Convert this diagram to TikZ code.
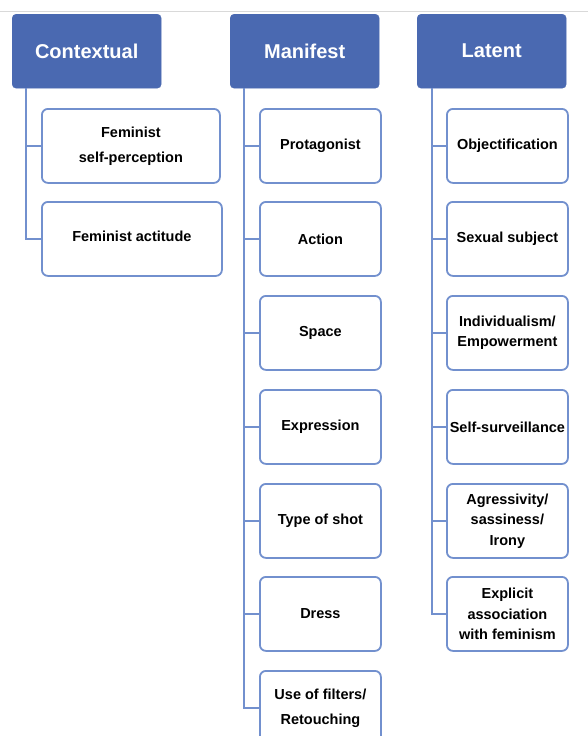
\documentclass[tikz,border=0pt]{standalone}
\usepackage{fontspec}
\setmainfont{Liberation Sans}
\definecolor{hdrblue}{HTML}{4A69B1}
\definecolor{edgeblue}{HTML}{7290CE}
\definecolor{topgray}{HTML}{D9D9D9}
\begin{document}
\begin{tikzpicture}[x=1pt,y=-1pt,
  hdr/.style={draw=hdrblue, fill=hdrblue, rounded corners=4pt, minimum width=149pt, minimum height=74pt, text=white, font=\fontsize{20}{24}\selectfont\bfseries, anchor=north west, inner sep=0pt},
  leaf/.style={draw=edgeblue, line width=1.8pt, fill=white, rounded corners=6pt, minimum height=74pt, font=\fontsize{14.5}{20.5}\selectfont\bfseries, align=center, anchor=north west, inner sep=0pt},
  wide/.style={font=\fontsize{14.5}{25}\selectfont\bfseries},
  conn/.style={draw=edgeblue, line width=2pt}]
\useasboundingbox (0,0) rectangle (588,736);
\fill[white] (0,0) rectangle (588,736);
\coordinate (tl) at (0,11.5);
\coordinate (tr) at (588,11.5);
\draw[topgray, line width=0.8pt] (tl) -- (tr);

% headers
\node[hdr] (H1) at (12,14) {Contextual};
\node[hdr] (H2) at (230,14) {Manifest};
\node[hdr] (H3) at (417,14) {Latent};

% spines
\coordinate (s1) at (26,88);
\coordinate (s2) at (244,88);
\coordinate (s3) at (432,88);

% Contextual leaves
\node[leaf, wide, minimum width=178pt] (c1) at (41,108) {Feminist\\self-perception};
\node[leaf, minimum width=180pt] (c2) at (41,201) {\raisebox{5pt}{Feminist actitude}};

% Manifest leaves
\node[leaf, minimum width=121pt] (m1) at (259,108) {Protagonist};
\node[leaf, minimum width=121pt] (m2) at (259,201) {Action};
\node[leaf, minimum width=121pt] (m3) at (259,295) {Space};
\node[leaf, minimum width=121pt] (m4) at (259,389) {Expression};
\node[leaf, minimum width=121pt] (m5) at (259,483) {Type of shot};
\node[leaf, minimum width=121pt] (m6) at (259,576) {Dress};
\node[leaf, wide, minimum width=121pt] (m7) at (259,670) {Use of filters/\\Retouching};

% Latent leaves
\node[leaf, minimum width=121pt] (l1) at (446,108) {Objectification};
\node[leaf, minimum width=121pt] (l2) at (446,201) {Sexual subject};
\node[leaf, minimum width=121pt] (l3) at (446,295) {Individualism/\\Empowerment};
\node[leaf, minimum width=121pt] (l4) at (446,389) {Self-surveillance};
\node[leaf, minimum width=121pt] (l5) at (446,483) {Agressivity/\\sassiness/\\Irony};
\node[leaf, minimum width=121pt] (l6) at (446,576) {Explicit\\association\\with feminism};

% connectors
\draw[conn] (s1) |- (c2.west);
\draw[conn] (s1 |- c1.west) -- (c1.west);

\draw[conn] (s2) |- (m7.west);
\foreach \n in {m1,m2,m3,m4,m5,m6} \draw[conn] (s2 |- \n.west) -- (\n.west);

\draw[conn] (s3) |- (l6.west);
\foreach \n in {l1,l2,l3,l4,l5} \draw[conn] (s3 |- \n.west) -- (\n.west);
\end{tikzpicture}
\end{document}
